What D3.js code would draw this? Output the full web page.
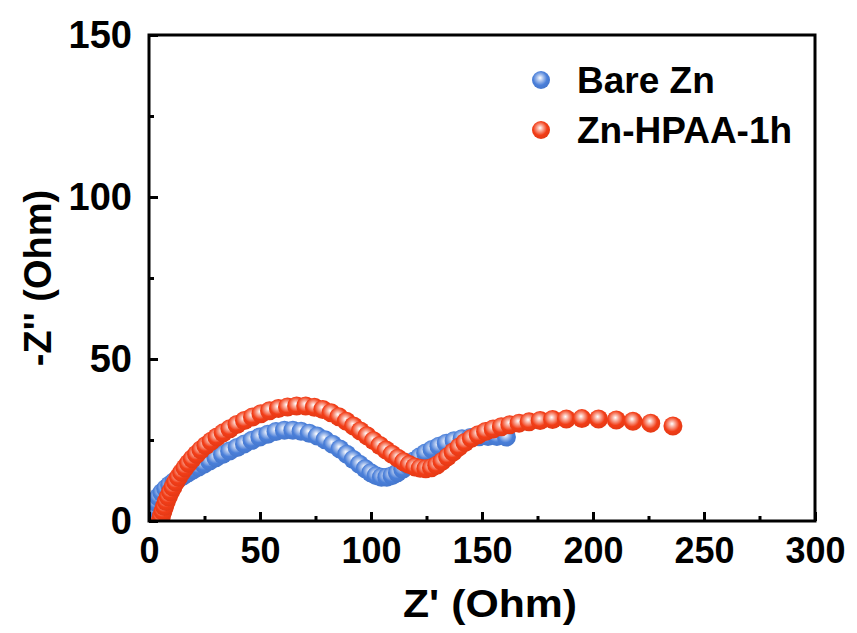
<!DOCTYPE html>
<html>
<head>
<meta charset="utf-8">
<script src="https://cdn.jsdelivr.net/npm/d3@7"></script>
<style>
  body { margin: 0; background: #fff; }
  text { font-family: Arial, "Liberation Sans", sans-serif; font-weight: bold; }
</style>
</head>
<body>
<script>
var width = 857, height = 633;
var margin = { left: 149, right: 42, top: 35, bottom: 112 };

// Nyquist data: [Z', -Z'']
var bareZn = [
  [1,0],[1.5,2],[2.2,4],[3.1,5.8],[4.3,7.4],[5.8,8.8],[7.5,10],[9.3,11.1],[11.2,12.1],[13.2,13],
  [15.3,13.9],[17.5,14.8],[19.8,15.7],[22.2,16.6],[24.7,17.5],[27.3,18.5],[30.1,19.5],[33.1,20.5],
  [36.3,21.6],[39.7,22.7],[43,23.8],[46.4,24.9],[49.9,25.9],[53.5,26.8],[57.2,27.6],[61,28],
  [64.8,28],[68.5,27.7],[72.2,27.1],[75.8,26.2],[79.3,25.1],[82.7,23.7],[86,22.2],[89.1,20.6],
  [92,19],[94.8,17.5],[97.4,16.1],[99.9,14.9],[102.3,14],[104.7,13.5],[107.1,13.5],[109.5,14],
  [111.9,14.9],[114.3,16],[116.8,17.2],[119.3,18.5],[121.9,19.8],[124.6,21],[127.5,22.1],
  [130.6,23.1],[133.9,24],[137.4,24.8],[141,25.4],[144.8,25.8],[148.7,26],[152.7,26.1],
  [156.7,26.1],[161,25.9]
];
var znHpaa = [
  [5,0],[5.6,1.5],[6.3,3],[7,4.5],[7.8,6],[8.7,7.5],[9.7,9],[10.8,10.5],[12,12],[13.3,13.5],
  [14.7,15],[16.2,16.4],[17.8,17.8],[19.5,19.2],[21.4,20.6],[23.4,22],[25.6,23.3],[28,24.6],
  [30.6,25.9],[33.4,27.2],[36.4,28.5],[39.6,29.8],[43,31],[46.6,32.1],[50.4,33.1],[54.3,34],
  [58.3,34.7],[62.4,35.2],[66.5,35.5],[70.6,35.5],[74.5,35.1],[78.3,34.4],[82,33.4],[85.5,32.2],
  [88.9,30.8],[92.1,29.3],[95.2,27.8],[98.2,26.3],[101.1,24.8],[104,23.3],[106.8,21.9],
  [109.5,20.6],[112.1,19.4],[114.7,18.3],[117.2,17.4],[119.7,16.7],[122.2,16.3],[124.7,16.1],
  [127.2,16.4],[129.6,17.2],[132,18.4],[134.5,19.8],[137,21.3],[139.6,22.8],[142.3,24.2],
  [145.2,25.5],[148.3,26.6],[151.6,27.6],[155,28.4],[158.7,29.1],[162.5,29.7],[166.7,30.2],
  [171.2,30.6],[176.2,31],[181.8,31.3],[188,31.5],[195,31.6],[202.5,31.5],[210.5,31.2],
  [218,30.8],[226,30.2],[236,29.3]
];
var seriesNames = ["Bare Zn", "Zn-HPAA-1h"];
var seriesColors = ["#4a7fd9", "#f23d17"];
var xTicks = [0, 50, 100, 150, 200, 250, 300];
var yTicks = [0, 50, 100, 150];

var svg = d3.select('body').append('svg')
  .attr('width', width)
  .attr('height', height);

var x = d3.scaleLinear().domain([0, 300]).range([margin.left, width - margin.right]);
var y = d3.scaleLinear().domain([0, 150]).range([height - margin.bottom, margin.top]);

var defs = svg.append('defs');
seriesColors.forEach(function(c, i) {
  var g = defs.append('radialGradient').attr('id', 'ball' + i)
    .attr('cx', '45%').attr('cy', '42%').attr('r', '55%')
    .attr('fx', '45%').attr('fy', '38%');
  g.append('stop').attr('offset', '0%').attr('stop-color', '#ffffff');
  g.append('stop').attr('offset', '30%').attr('stop-color', d3.interpolateRgb('#ffffff', c)(0.45));
  g.append('stop').attr('offset', '70%').attr('stop-color', c);
  g.append('stop').attr('offset', '100%').attr('stop-color', d3.color(c).darker(0.15));
});

defs.append('clipPath').attr('id', 'plotclip').append('rect')
  .attr('x', x(0)).attr('y', y(150))
  .attr('width', x(300) - x(0)).attr('height', y(0) - y(150));

var plot = svg.append('g').attr('clip-path', 'url(#plotclip)');
[bareZn, znHpaa].forEach(function(data, i) {
  plot.append('g').selectAll('circle').data(data).enter().append('circle')
    .attr('cx', function(d) { return x(d[0]); })
    .attr('cy', function(d) { return y(d[1]); })
    .attr('r', 9.5)
    .style('fill', 'url(#ball' + i + ')');
});

// axes, ticks inside
var xAxis = svg.append('g').attr('transform', 'translate(0,' + y(0) + ')')
  .call(d3.axisBottom(x).tickValues(xTicks).tickSize(-9).tickPadding(16).tickFormat(d3.format('d')));
var yAxis = svg.append('g').attr('transform', 'translate(' + x(0) + ',0)')
  .call(d3.axisLeft(y).tickValues(yTicks).tickSize(-9).tickPadding(17).tickFormat(d3.format('d')));
svg.append('g').attr('transform', 'translate(0,' + y(0) + ')')
  .call(d3.axisBottom(x).tickValues(d3.range(25, 300, 50)).tickSize(-5).tickFormat(''));
svg.append('g').attr('transform', 'translate(' + x(0) + ',0)')
  .call(d3.axisLeft(y).tickValues(d3.range(25, 150, 50)).tickSize(-5).tickFormat(''));

svg.selectAll('.domain').remove();
svg.selectAll('.tick line').attr('stroke', '#000').attr('stroke-width', 3);
xAxis.selectAll('text').style('font-size', '36px').attr('fill', '#000');
yAxis.selectAll('text').style('font-size', '38px').attr('fill', '#000');

svg.append('rect')
  .attr('x', x(0)).attr('y', y(150))
  .attr('width', x(300) - x(0)).attr('height', y(0) - y(150))
  .attr('fill', 'none').attr('stroke', '#000').attr('stroke-width', 3);

svg.append('text')
  .attr('x', 490).attr('y', 617)
  .attr('text-anchor', 'middle').style('font-size', '38px')
  .attr('textLength', 174).attr('lengthAdjust', 'spacingAndGlyphs')
  .text("Z' (Ohm)");
svg.append('text')
  .attr('transform', 'translate(51,' + ((y(0) + y(150)) / 2) + ') rotate(-90)')
  .attr('text-anchor', 'middle').style('font-size', '38px')
  .text("-Z'' (Ohm)");

// legend
var legend = svg.append('g');
seriesNames.forEach(function(name, i) {
  var ly = 80 + i * 50;
  legend.append('circle').attr('cx', 541).attr('cy', ly).attr('r', 9)
    .style('fill', 'url(#ball' + i + ')');
  legend.append('text').attr('x', 577).attr('y', ly + 13)
    .style('font-size', '37px').text(name);
});
</script>
</body>
</html>
